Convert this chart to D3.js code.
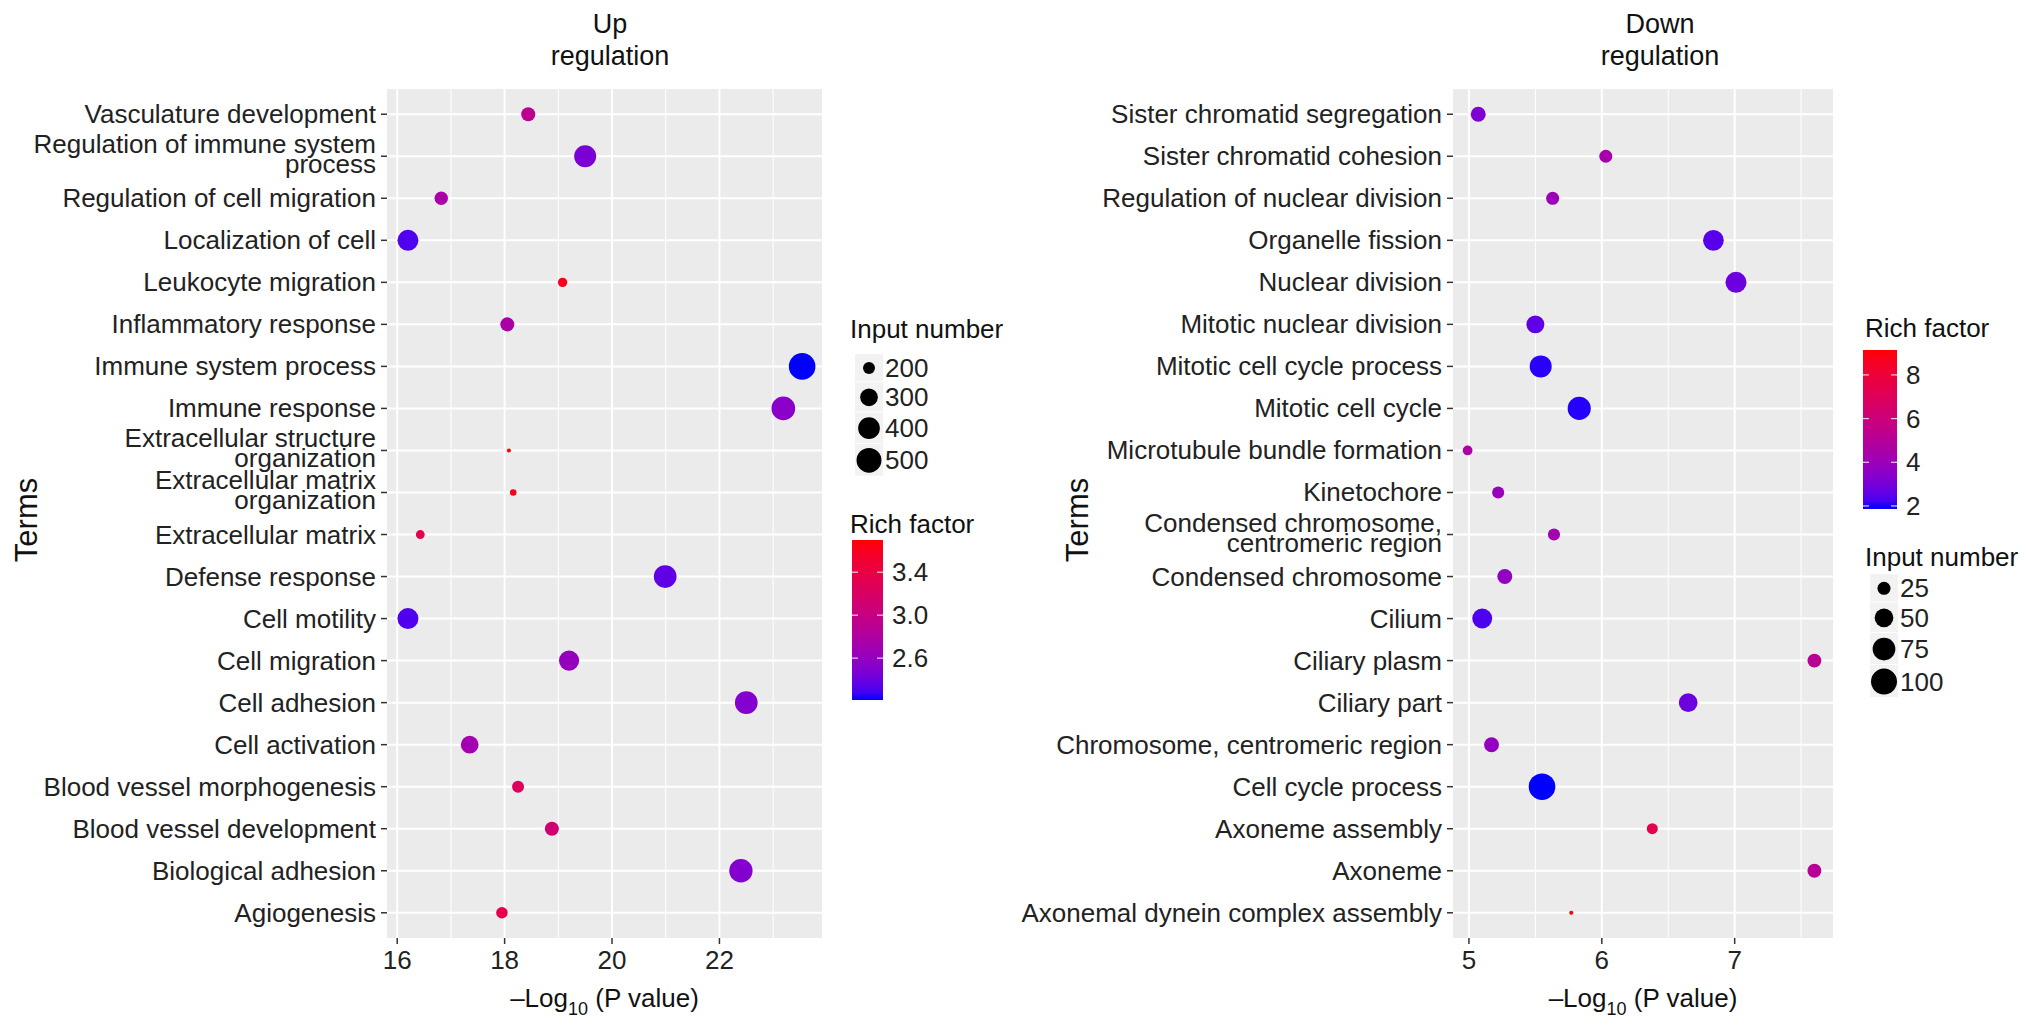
<!DOCTYPE html>
<html>
<head>
<meta charset="utf-8">
<script src="https://cdn.jsdelivr.net/npm/d3@7"></script>
<style>
  body { margin: 0; background: #fff; }
  svg text { font-family: "Liberation Sans", Arial, Helvetica, sans-serif; }
</style>
</head>
<body>
<script>
// ---- Up regulation data (top to bottom) ----
const upTerms = [
  "Vasculature development", "Regulation of immune system\nprocess", "Regulation of cell migration",
  "Localization of cell", "Leukocyte migration", "Inflammatory response", "Immune system process",
  "Immune response", "Extracellular structure\norganization", "Extracellular matrix\norganization",
  "Extracellular matrix", "Defense response", "Cell motility", "Cell migration", "Cell adhesion",
  "Cell activation", "Blood vessel morphogenesis", "Blood vessel development", "Biological adhesion",
  "Agiogenesis"
];
const upLogP  = [18.44, 19.5, 16.82, 16.2, 19.08, 18.05, 23.54, 23.19, 18.08, 18.16,
                 16.43, 20.99, 16.2, 19.2, 22.5, 17.35, 18.25, 18.88, 22.4, 17.95];
const upInput = [230, 410, 220, 380, 172, 230, 560, 460, 150, 155,
                 168, 430, 380, 360, 430, 300, 200, 230, 450, 195];
const upRich  = [2.91, 2.46, 2.75, 2.31, 3.62, 2.75, 2.21, 2.54, 3.70, 3.60,
                 3.33, 2.36, 2.31, 2.61, 2.51, 2.70, 3.25, 3.10, 2.51, 3.37];
const upXTicks = [16, 18, 20, 22];
const upSizeBreaks = [200, 300, 400, 500];
const upRichBreaks = [2.6, 3.0, 3.4];

// ---- Down regulation data (top to bottom) ----
const downTerms = [
  "Sister chromatid segregation", "Sister chromatid cohesion", "Regulation of nuclear division",
  "Organelle fission", "Nuclear division", "Mitotic nuclear division", "Mitotic cell cycle process",
  "Mitotic cell cycle", "Microtubule bundle formation", "Kinetochore",
  "Condensed chromosome,\ncentromeric region", "Condensed chromosome", "Cilium", "Ciliary plasm",
  "Ciliary part", "Chromosome, centromeric region", "Cell cycle process", "Axoneme assembly",
  "Axoneme", "Axonemal dynein complex assembly"
];
const downLogP  = [5.07, 6.03, 5.63, 6.84, 7.01, 5.5, 5.54, 5.83, 4.99, 5.22,
                   5.64, 5.27, 5.10, 7.6, 6.65, 5.17, 5.55, 6.38, 7.6, 5.77];
const downInput = [32, 25, 25, 62, 64, 46, 70, 78, 16, 22,
                   22, 32, 57, 28, 50, 32, 105, 19, 28, 10];
const downRich  = [3.17, 4.41, 4.04, 2.44, 2.81, 2.59, 2.00, 1.97, 4.55, 3.90,
                   4.26, 3.68, 2.30, 5.14, 2.81, 3.75, 1.86, 7.32, 5.14, 9.14];
const downXTicks = [5, 6, 7];
const downSizeBreaks = [25, 50, 75, 100];
const downRichBreaks = [2, 4, 6, 8];

const W = 2032, H = 1028;
const svg = d3.select("body").append("svg").attr("width", W).attr("height", H);

const defs = svg.append("defs");
const FS = 26;

function drawPanel(p) {
  const x = d3.scaleLinear().domain(p.xDomain).range([p.left, p.right]);
  const y = d3.scalePoint().domain(p.terms).range([p.top, p.bottom]).padding(0.6);
  const col = d3.scaleLinear().domain(d3.extent(p.rich))
    .range(["#0000ff", "#ff0000"]).interpolate(d3.interpolateLab);
  // ggplot-like area scale: radius grows with sqrt of rescaled value
  const norm = d3.scaleLinear().domain(d3.extent(p.input)).range([0, 1]);
  const rad = d3.scaleSqrt().domain([0, 1]).range([0, 11.25]);
  const r = v => 2.05 + rad(norm(v));

  const rows = p.terms.map((t, i) => ({ term: t, logp: p.logP[i], input: p.input[i], rich: p.rich[i] }));
  const g = svg.append("g");

  // panel background + grid
  g.append("rect").attr("x", p.left).attr("y", p.top)
    .attr("width", p.right - p.left).attr("height", p.bottom - p.top).attr("fill", "#ebebeb");

  const minor = d3.range(Math.ceil(p.xDomain[0]), Math.floor(p.xDomain[1]) + 1, 0.5)
    .filter(v => !p.xTicks.includes(v))
    .filter(v => p.xStep === 1 ? v % 1 !== 0 : v % 1 === 0);
  g.selectAll(".minor").data(minor).join("line")
    .attr("x1", d => x(d)).attr("x2", d => x(d)).attr("y1", p.top).attr("y2", p.bottom)
    .attr("stroke", "#fff").attr("stroke-width", 1);
  g.selectAll(".vmajor").data(p.xTicks).join("line")
    .attr("x1", d => x(d)).attr("x2", d => x(d)).attr("y1", p.top).attr("y2", p.bottom)
    .attr("stroke", "#fff").attr("stroke-width", 2);
  g.selectAll(".hmajor").data(p.terms).join("line")
    .attr("x1", p.left).attr("x2", p.right).attr("y1", d => y(d)).attr("y2", d => y(d))
    .attr("stroke", "#fff").attr("stroke-width", 2);

  // points
  g.selectAll("circle.pt").data(rows).join("circle")
    .attr("cx", d => x(d.logp)).attr("cy", d => y(d.term)).attr("r", d => r(d.input))
    .attr("fill", d => col(d.rich));

  // y axis ticks + labels
  g.selectAll(".ytick").data(p.terms).join("line")
    .attr("x1", p.left - 6).attr("x2", p.left).attr("y1", d => y(d)).attr("y2", d => y(d))
    .attr("stroke", "#333").attr("stroke-width", 1.5);
  p.terms.forEach(t => {
    const lines = t.split("\n");
    const n = lines.length;
    const txt = g.append("text").attr("text-anchor", "end").attr("font-size", FS).attr("fill", "#222");
    lines.forEach((ln, k) => {
      txt.append("tspan").attr("x", p.left - 11)
        .attr("y", y(t) + 9 + (k - (n - 1) / 2) * 20 - (n > 1 ? 2 : 0)).text(ln);
    });
  });

  // x axis ticks + labels
  g.selectAll(".xtick").data(p.xTicks).join("line")
    .attr("x1", d => x(d)).attr("x2", d => x(d)).attr("y1", p.bottom).attr("y2", p.bottom + 6)
    .attr("stroke", "#333").attr("stroke-width", 1.5);
  g.selectAll(".xlab").data(p.xTicks).join("text")
    .attr("x", d => x(d)).attr("y", p.bottom + 31).attr("text-anchor", "middle")
    .attr("font-size", FS).attr("fill", "#222").text(d => d);

  // x title
  const xt = g.append("text").attr("x", (p.left + p.right) / 2).attr("y", p.bottom + 69)
    .attr("text-anchor", "middle").attr("font-size", FS).attr("fill", "#111");
  xt.append("tspan").text("\u2013Log");
  xt.append("tspan").attr("font-size", 18).attr("dy", 8).text("10");
  xt.append("tspan").attr("dy", -8).text(" (P value)");

  // y title
  g.append("text").attr("transform", `translate(${p.termsX},520) rotate(-90)`)
    .attr("text-anchor", "middle").attr("font-size", 31).attr("fill", "#111").text("Terms");

  // plot title
  p.title.forEach((t, k) => {
    g.append("text").attr("x", p.titleX).attr("y", 33 + k * 32).attr("text-anchor", "middle")
      .attr("font-size", 27).attr("fill", "#111").text(t);
  });

  // size legend
  const sl = p.sizeLegend;
  g.append("text").attr("x", sl.x).attr("y", sl.titleY).attr("font-size", FS).attr("fill", "#111").text("Input number");
  let ky = sl.keyTop;
  p.sizeBreaks.forEach(b => {
    const d = 2 * r(b);
    const h = 24 + 0.35 * d;
    g.append("rect").attr("x", sl.x + 5).attr("y", ky).attr("width", 28).attr("height", h - 1)
      .attr("fill", "#f2f2f2");
    g.append("circle").attr("cx", sl.x + 19).attr("cy", ky + h / 2).attr("r", r(b)).attr("fill", "#000");
    g.append("text").attr("x", sl.x + 35).attr("y", ky + h / 2 + 9).attr("font-size", FS).attr("fill", "#222").text(b);
    ky += h;
  });

  // colour legend
  const cl = p.colorLegend;
  g.append("text").attr("x", cl.x).attr("y", cl.titleY).attr("font-size", FS).attr("fill", "#111").text("Rich factor");
  const ext = d3.extent(p.rich);
  const gid = "grad" + p.id;
  const grad = defs.append("linearGradient").attr("id", gid)
    .attr("x1", 0).attr("y1", 1).attr("x2", 0).attr("y2", 0);
  d3.range(0, 1.0001, 0.05).forEach(t => {
    grad.append("stop").attr("offset", t).attr("stop-color", col(ext[0] + t * (ext[1] - ext[0])));
  });
  const barY = d3.scaleLinear().domain(ext).range([cl.barBottom, cl.barTop]);
  g.append("rect").attr("x", cl.barX).attr("y", cl.barTop).attr("width", cl.barW)
    .attr("height", cl.barBottom - cl.barTop).attr("fill", `url(#${gid})`);
  p.richBreaks.forEach(b => {
    const yy = barY(b);
    g.append("line").attr("x1", cl.barX).attr("x2", cl.barX + 6).attr("y1", yy).attr("y2", yy)
      .attr("stroke", "#fff").attr("stroke-width", 1.2).attr("opacity", 0.8);
    g.append("line").attr("x1", cl.barX + cl.barW - 6).attr("x2", cl.barX + cl.barW).attr("y1", yy).attr("y2", yy)
      .attr("stroke", "#fff").attr("stroke-width", 1.2).attr("opacity", 0.8);
    g.append("text").attr("x", cl.barX + cl.barW + 9).attr("y", yy + 9).attr("font-size", FS)
      .attr("fill", "#222").text(p.richFormat(b));
  });
}

drawPanel({
  id: "up", terms: upTerms, logP: upLogP, input: upInput, rich: upRich,
  xTicks: upXTicks, xStep: 2, xDomain: [15.81, 23.91],
  left: 387, right: 822, top: 89, bottom: 938,
  title: ["Up", "regulation"], titleX: 610, termsX: 37,
  sizeBreaks: upSizeBreaks, richBreaks: upRichBreaks, richFormat: d3.format(".1f"),
  sizeLegend: { x: 850, titleY: 338, keyTop: 354 },
  colorLegend: { x: 850, titleY: 533, barX: 852, barW: 31, barTop: 540, barBottom: 700 }
});

drawPanel({
  id: "down", terms: downTerms, logP: downLogP, input: downInput, rich: downRich,
  xTicks: downXTicks, xStep: 1, xDomain: [4.88, 7.74],
  left: 1453, right: 1833, top: 89, bottom: 938,
  title: ["Down", "regulation"], titleX: 1660, termsX: 1088,
  sizeBreaks: downSizeBreaks, richBreaks: downRichBreaks, richFormat: d3.format("d"),
  sizeLegend: { x: 1865, titleY: 566, keyTop: 574 },
  colorLegend: { x: 1865, titleY: 337, barX: 1863, barW: 34, barTop: 350, barBottom: 509 }
});
</script>
</body>
</html>
